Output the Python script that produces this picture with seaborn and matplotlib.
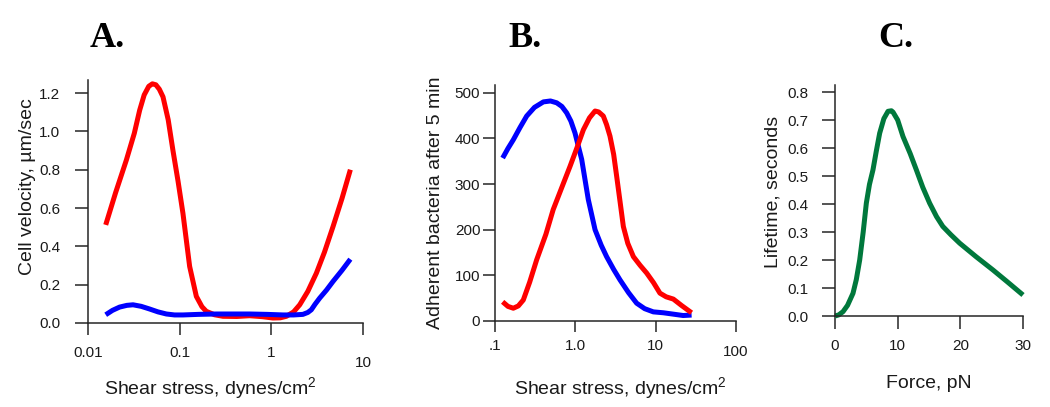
import numpy as np
import pandas as pd
import matplotlib
matplotlib.use("Agg")
import matplotlib.pyplot as plt
import seaborn as sns
from matplotlib.ticker import NullLocator, FixedLocator

# ---------------- data ----------------
# Panel A: cell velocity vs shear stress
a_red_x = [0.0156, 0.0200, 0.0262, 0.0320, 0.0366, 0.0410, 0.0460, 0.0504, 0.0550, 0.0600, 0.0658, 0.0750, 0.0845,
           0.0960, 0.1086, 0.1285, 0.152, 0.175, 0.195, 0.240, 0.297, 0.42, 0.58, 0.80, 1.04, 1.25,
           1.46, 1.75, 2.04, 2.5, 3.1, 3.8, 4.71, 5.9, 7.28]
a_red_y = [0.512, 0.68, 0.85, 0.99, 1.11, 1.19, 1.235, 1.248, 1.243, 1.22, 1.18, 1.06, 0.90,
           0.74, 0.572, 0.295, 0.139, 0.085, 0.061, 0.043, 0.035, 0.034, 0.038, 0.033, 0.026, 0.027,
           0.035, 0.058, 0.095, 0.165, 0.26, 0.37, 0.503, 0.65, 0.80]
a_blue_x = [0.0156, 0.0185, 0.0221, 0.0265, 0.031, 0.038, 0.047, 0.058, 0.0716, 0.0880, 0.1087, 0.16,
            0.251, 0.40, 0.58, 0.90, 1.34, 1.75, 2.21, 2.50, 2.73, 3.0, 3.37, 4.0, 4.71, 5.9, 7.28]
a_blue_y = [0.043, 0.066, 0.083, 0.092, 0.095, 0.087, 0.073, 0.058, 0.047, 0.042, 0.042, 0.045,
            0.047, 0.047, 0.047, 0.045, 0.042, 0.042, 0.045, 0.055, 0.069, 0.098, 0.13, 0.172, 0.217, 0.275, 0.333]

# Panel B: adherent bacteria vs shear stress
b_blue_x = [0.1245, 0.145, 0.169, 0.205, 0.248, 0.31, 0.40, 0.49, 0.586, 0.68, 0.78, 0.88, 0.99,
            1.2, 1.45, 1.76, 2.1, 2.45, 3.0, 3.6, 4.6, 5.8, 7.3, 9.35, 12.5, 16.6, 22.0, 28.0]
b_blue_y = [357, 378, 397, 424, 449, 468, 480, 482, 478, 470, 456, 438, 412,
            354, 266, 200, 166, 141, 113, 90, 62, 39, 27, 20, 18, 15, 12, 13]
b_red_x = [0.1245, 0.145, 0.169, 0.195, 0.225, 0.27, 0.33, 0.43, 0.53, 0.68, 0.86, 1.05, 1.26,
           1.5, 1.76, 1.95, 2.23, 2.45, 2.70, 3.0, 3.27, 3.6, 3.96, 4.5, 5.28, 6.4, 7.73, 9.4,
           11.3, 13.5, 16.6, 21.0, 28.0]
b_red_y = [42, 32, 28, 33, 46, 85, 134, 190, 244, 293, 339, 380, 419,
           445, 460, 458, 449, 430, 405, 365, 317, 262, 207, 170, 141, 122, 105, 84,
           61, 53, 48, 34, 18]

# Panel C: bond lifetime vs force
c_x = [0.0, 0.6, 1.28, 2.0, 2.87, 3.4, 3.94, 4.5, 5.0, 5.5, 6.06, 6.6, 7.13, 7.8, 8.46, 9.0, 9.26,
       10.0, 10.85, 12.0, 12.98, 14.0, 15.1, 16.2, 17.2, 18.5, 19.9, 22.5, 25.2, 27.5, 30.0]
c_y = [0.0, 0.004, 0.0155, 0.038, 0.081, 0.13, 0.2, 0.30, 0.403, 0.47, 0.522, 0.59, 0.653, 0.705,
       0.731, 0.733, 0.728, 0.70, 0.641, 0.58, 0.522, 0.46, 0.403, 0.355, 0.32, 0.29, 0.26, 0.212,
       0.1645, 0.122, 0.075]

a_xticks = [0.01, 0.1, 1, 10]
a_xticklabels = ["0.01", "0.1", "1", "10"]
a_yticks = [0.0, 0.2, 0.4, 0.6, 0.8, 1.0, 1.2]
b_xticks = [0.1, 1, 10, 100]
b_xticklabels = [".1", "1.0", "10", "100"]
b_yticks = [0, 100, 200, 300, 400, 500]
c_xticks = [0, 10, 20, 30]
c_yticks = [0.0, 0.1, 0.2, 0.3, 0.4, 0.5, 0.6, 0.7, 0.8]

# ---------------- style ----------------
sns.set_style("ticks")
plt.rcParams["font.family"] = ["Liberation Sans", "DejaVu Sans"]
plt.rcParams["mathtext.fontset"] = "custom"
plt.rcParams["mathtext.rm"] = "Liberation Sans"
plt.rcParams["mathtext.it"] = "Liberation Sans"
plt.rcParams["axes.linewidth"] = 1.1

RED = "#FF0000"
BLUE = "#0000FF"
GREEN = "#00783C"
TXT = "#1a1a1a"
LW = 3.6
TICKFS = 11
LBL = 14

W, H = 1050, 407
fig = plt.figure(figsize=(W / 100, H / 100), dpi=100)


def add_axes(x0, x1, ybot, ytop):
    return fig.add_axes([x0 / W, 1 - ybot / H, (x1 - x0) / W, (ybot - ytop) / H])


axA = add_axes(88, 363, 323, 80)
axB = add_axes(495, 736, 321, 85)
axC = add_axes(835, 1023, 316, 85)


def line(ax, x, y, color):
    df = pd.DataFrame({"x": x, "y": y})
    sns.lineplot(data=df, x="x", y="y", ax=ax, color=color, lw=LW, estimator=None,
                 sort=True, solid_capstyle="butt", solid_joinstyle="round", clip_on=False)


# Panel A
line(axA, a_red_x, a_red_y, RED)
line(axA, a_blue_x, a_blue_y, BLUE)
axA.set_xscale("log")
axA.set_xlim(0.01, 10)
axA.set_ylim(0, 1.268)

# Panel B
line(axB, b_blue_x, b_blue_y, BLUE)
line(axB, b_red_x, b_red_y, RED)
axB.set_xscale("log")
axB.set_xlim(0.1, 100)
axB.set_ylim(0, 517)

# Panel C
line(axC, c_x, c_y, GREEN)
axC.set_xlim(0, 30)
axC.set_ylim(0, 0.825)

for ax in (axA, axB, axC):
    sns.despine(ax=ax)
    ax.set_xlabel("")
    ax.set_ylabel("")

axA.set_xticks(a_xticks, a_xticklabels)
axA.set_yticks(a_yticks, [f"{v:.1f}" for v in a_yticks])
axB.set_xticks(b_xticks, b_xticklabels)
axB.set_yticks(b_yticks, [str(v) for v in b_yticks])
axC.set_xticks(c_xticks, [str(v) for v in c_xticks])
axC.set_yticks(c_yticks, [f"{v:.1f}" for v in c_yticks])

for ax in (axA, axB, axC):
    ax.xaxis.set_minor_locator(NullLocator())
    ax.yaxis.set_minor_locator(NullLocator())

axA.tick_params(axis="y", length=9.4, width=1.1, pad=10.5, labelsize=TICKFS, labelcolor=TXT)
axA.tick_params(axis="x", length=8.6, width=1.1, pad=8, labelsize=TICKFS, labelcolor=TXT)
axB.tick_params(axis="y", length=8.6, width=1.1, pad=2, labelsize=TICKFS, labelcolor=TXT)
axB.tick_params(axis="x", length=8.0, width=1.1, pad=5, labelsize=TICKFS, labelcolor=TXT)
axC.tick_params(axis="y", length=9.4, width=1.1, pad=10, labelsize=TICKFS, labelcolor=TXT)
axC.tick_params(axis="x", length=9.4, width=1.1, pad=7, labelsize=TICKFS, labelcolor=TXT)

# end ticks crossing the axis (A and B)
axA.xaxis.set_minor_locator(FixedLocator([10]))
axA.tick_params(axis="x", which="minor", direction="inout", length=18.7, width=1.1)
axB.xaxis.set_minor_locator(FixedLocator([100]))
axB.tick_params(axis="x", which="minor", direction="inout", length=17.3, width=1.1)

# last labels sit a little lower
for lbl in axA.get_xticklabels():
    if lbl.get_text() == "10":
        lbl.set_y(-0.04)
for lbl in axB.get_xticklabels():
    if lbl.get_text() == "100":
        lbl.set_y(-0.025)

axA.set_ylabel("Cell velocity, µm/sec", fontsize=LBL, color=TXT)
axA.yaxis.set_label_coords(-0.19, 0.56)
axA.set_xlabel("Shear stress, dynes/cm$^2$", fontsize=LBL, color=TXT)
axA.xaxis.set_label_coords(0.444, -0.215)

axB.set_ylabel("Adherent bacteria after 5 min", fontsize=LBL, color=TXT)
axB.yaxis.set_label_coords(-0.212, 0.502)
axB.set_xlabel("Shear stress, dynes/cm$^2$", fontsize=LBL, color=TXT)
axB.xaxis.set_label_coords(0.519, -0.23)

axC.set_ylabel("Lifetime, seconds", fontsize=LBL, color=TXT)
axC.yaxis.set_label_coords(-0.287, 0.535)
axC.set_xlabel("Force, pN", fontsize=LBL, color=TXT)
axC.xaxis.set_label_coords(0.5, -0.255)

# panel letters
for txt, px in (("A.", 90), ("B.", 508), ("C.", 878)):
    fig.text(px / W, 1 - 47 / H, txt, family=["Liberation Serif", "DejaVu Serif"],
             weight="bold", fontsize=26, va="baseline", ha="left", color="black")

fig.savefig("out.png", dpi=100)
